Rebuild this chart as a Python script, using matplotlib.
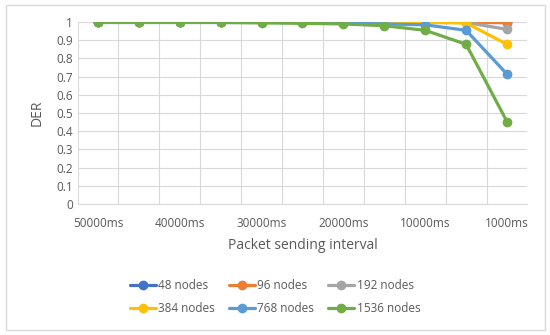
import matplotlib
matplotlib.use("Agg")
import matplotlib.pyplot as plt
from matplotlib.patches import Rectangle

intervals = ["50000ms", "45000ms", "40000ms", "35000ms", "30000ms", "25000ms",
             "20000ms", "15000ms", "10000ms", "5000ms", "1000ms"]
series_names = ["48 nodes", "96 nodes", "192 nodes", "384 nodes", "768 nodes", "1536 nodes"]
der_48 = [1, 1, 1, 1, 1, 1, 1, 1, 1, 1, 1]
der_96 = [1, 1, 1, 1, 1, 1, 1, 1, 1, 0.999, 0.997]
der_192 = [1, 1, 1, 1, 1, 1, 1, 1, 1, 0.998, 0.96]
der_384 = [1, 1, 1, 1, 1, 1, 1, 1, 0.999, 0.995, 0.878]
der_768 = [1, 1, 1, 1, 1, 0.998, 0.995, 0.99, 0.985, 0.955, 0.714]
der_1536 = [1, 1, 1, 0.998, 0.996, 0.993, 0.99, 0.98, 0.955, 0.878, 0.453]
colors = ["#4472C4", "#ED7D31", "#A5A5A5", "#FFC000", "#5B9BD5", "#70AD47"]

plt.rcParams['font.family'] = ['Open Sans', 'DejaVu Sans']
txt = "#595959"

fig = plt.figure(figsize=(5.5, 3.35), dpi=100)
ax = fig.add_axes([0.141, 0.391, 0.818, 0.543])

x = list(range(len(intervals)))
all_series = [der_48, der_96, der_192, der_384, der_768, der_1536]
for name, vals, c in zip(series_names, all_series, colors):
    ax.plot(x, vals, color=c, lw=2.3, marker='o', markersize=6, label=name,
            solid_capstyle='round')

ax.set_xlim(-0.5, len(intervals) - 0.5)
ax.set_ylim(0, 1)
ax.set_yticks([i / 10 for i in range(11)])
ax.set_yticklabels(["0", "0.1", "0.2", "0.3", "0.4", "0.5", "0.6", "0.7", "0.8", "0.9", "1"])
ax.set_xticks(x[::2])
ax.set_xticklabels(intervals[::2])
ax.set_xticks([i + 0.5 for i in range(-1, len(intervals))], minor=True)
ax.tick_params(axis='both', which='both', length=0, labelsize=8.5, colors=txt)
ax.tick_params(axis='x', pad=9)
ax.grid(axis='y', color="#D9D9D9", lw=0.8)
ax.grid(axis='x', which='minor', color="#D9D9D9", lw=0.8)
ax.set_axisbelow(True)
for s in ['top', 'right', 'left']:
    ax.spines[s].set_visible(False)
ax.spines['bottom'].set_color("#D9D9D9")
ax.set_xlabel("Packet sending interval", fontsize=10, color=txt, labelpad=6)
ax.set_ylabel("DER", fontsize=10, color=txt, labelpad=8)

handles, labels = ax.get_legend_handles_labels()
order = [0, 3, 1, 4, 2, 5]  # row-major display with ncol=3
leg = fig.legend([handles[i] for i in order], [labels[i] for i in order],
                 loc='center', bbox_to_anchor=(0.5, 0.113), ncol=3,
                 frameon=False, fontsize=8.5, handlelength=2.2, handletextpad=0.2,
                 columnspacing=1.2, labelspacing=0.9)
for t in leg.get_texts():
    t.set_color(txt)

fig.patches.append(Rectangle((0.01, 0.015), 0.98, 0.97, transform=fig.transFigure,
                             fill=False, edgecolor="#D9D9D9", lw=1))
fig.savefig("out.png", dpi=100, facecolor="white")
